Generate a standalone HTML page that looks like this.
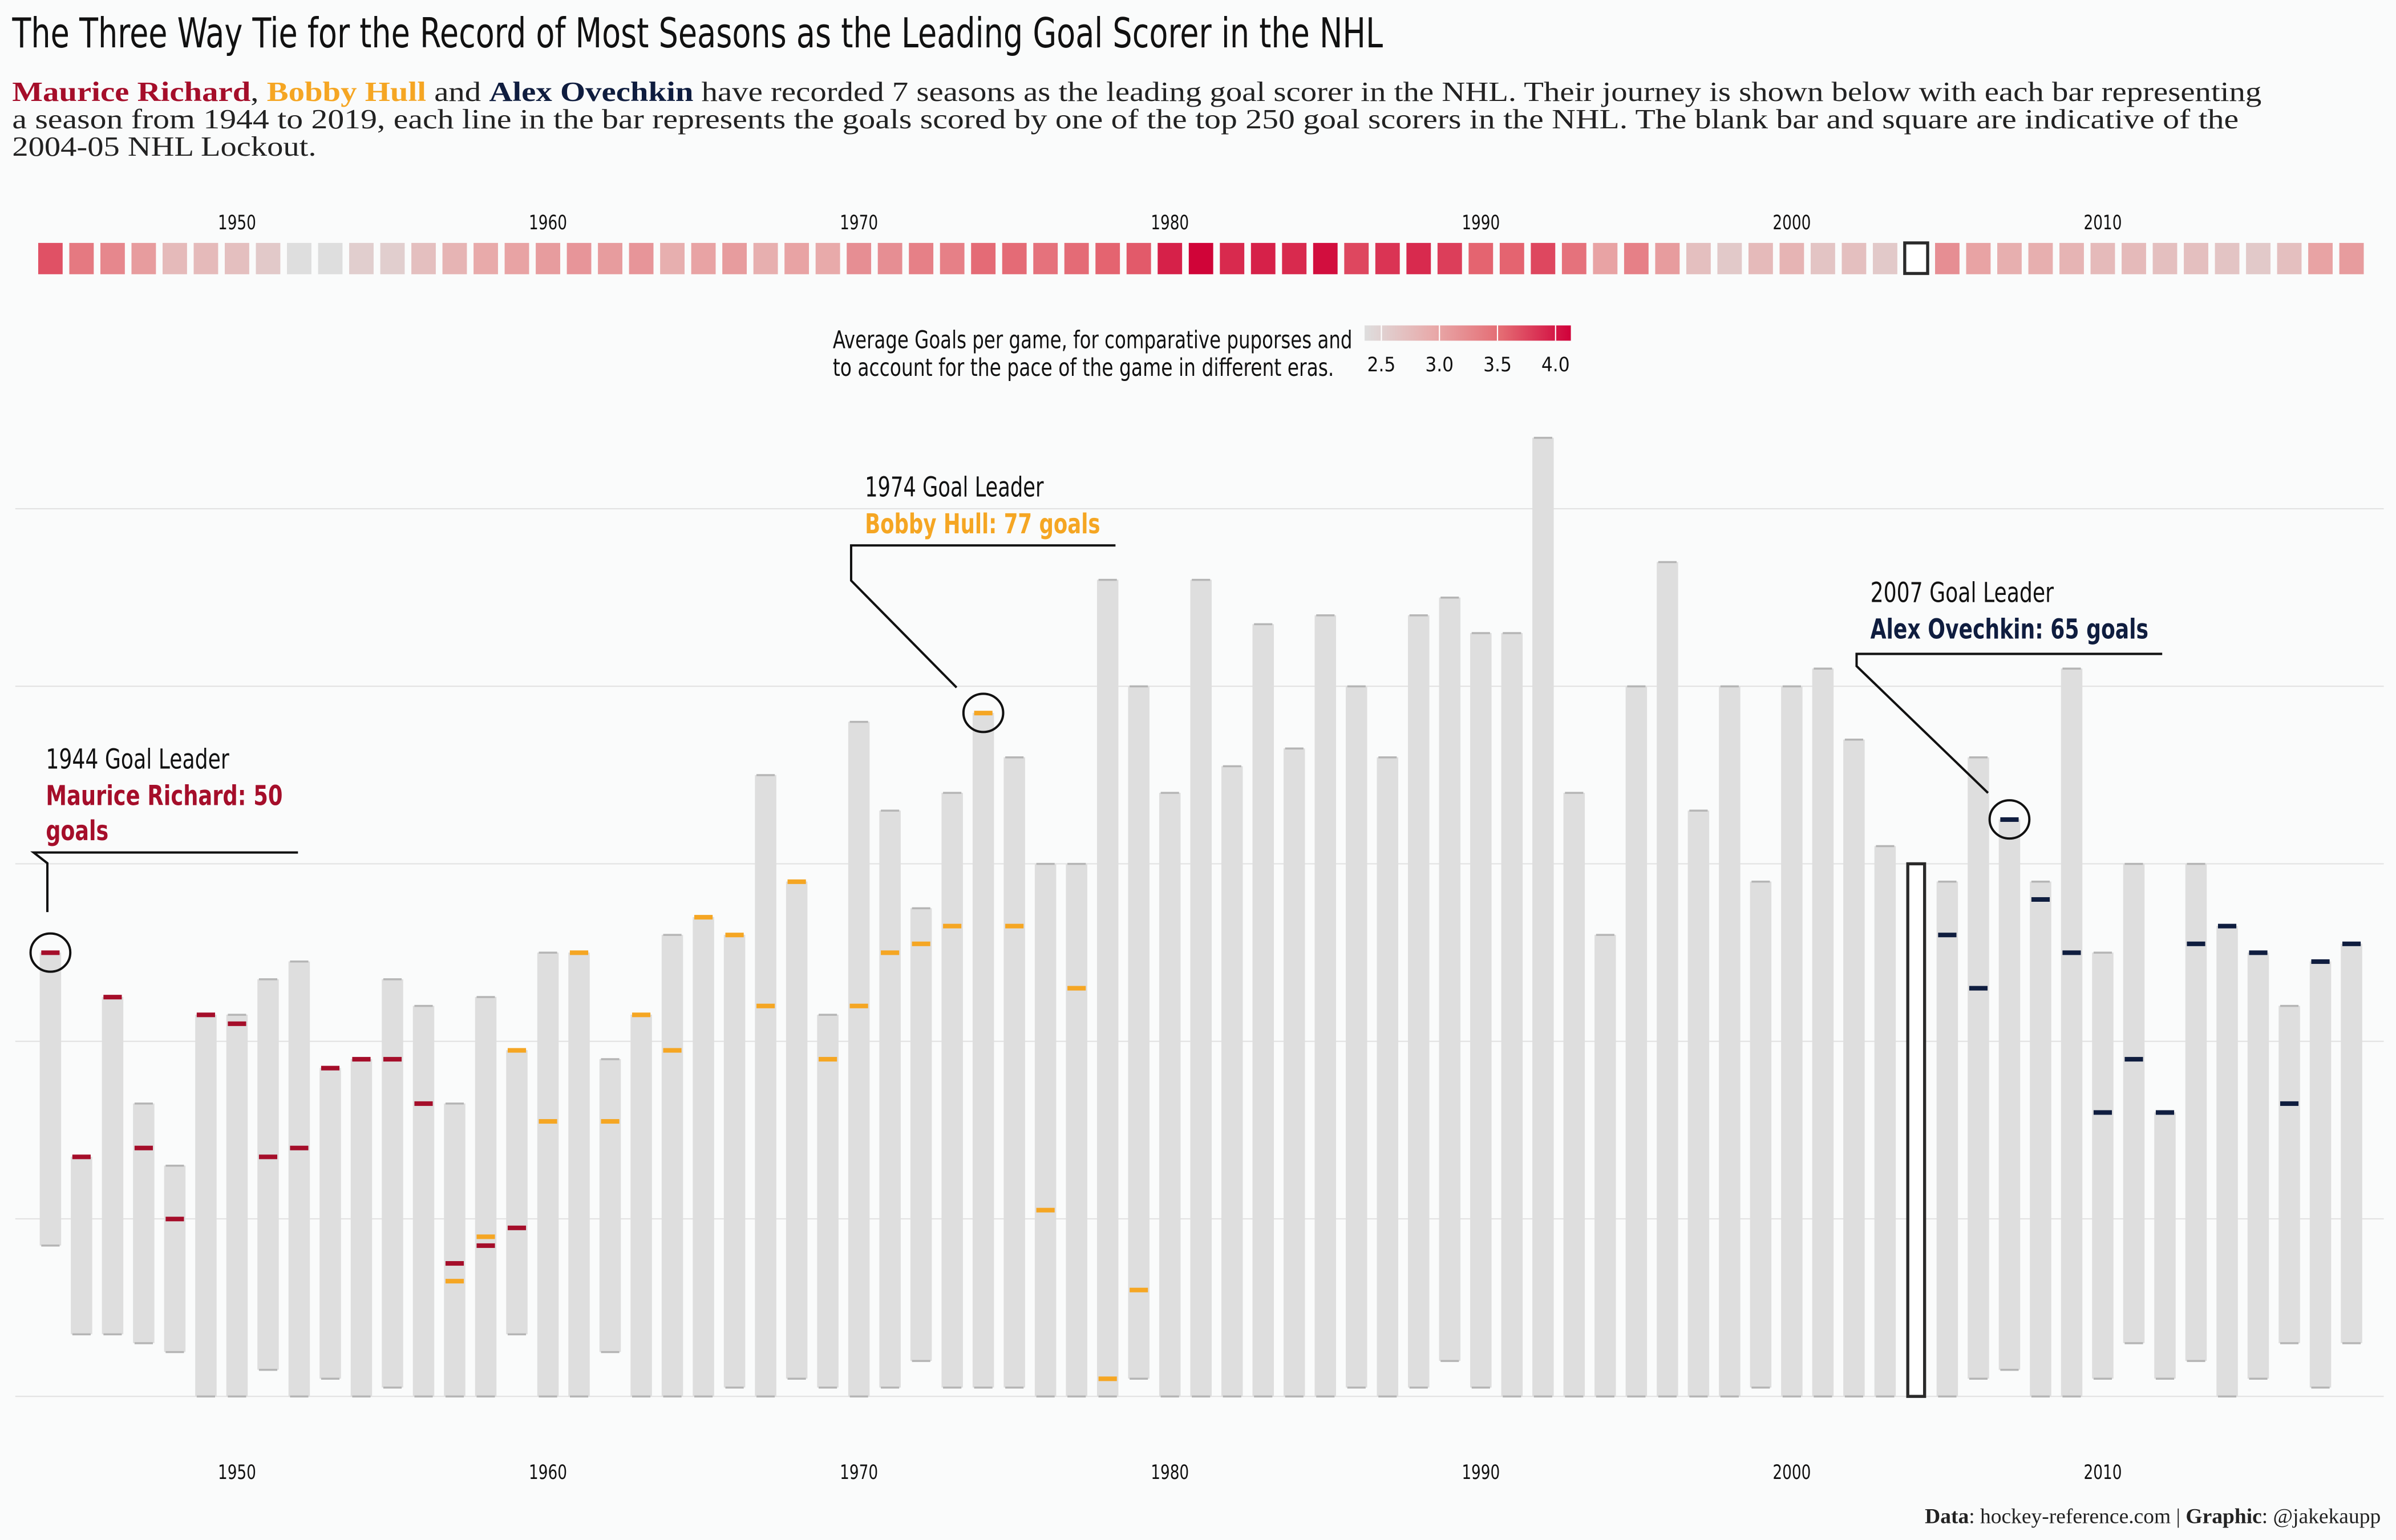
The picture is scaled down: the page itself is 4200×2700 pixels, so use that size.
<!DOCTYPE html>
<html><head><meta charset="utf-8"><title>NHL Goal Leaders</title>
<style>
html,body{margin:0;padding:0;background:#fafbfb;}
svg{display:block;}
.cond{font-family:"Liberation Sans Narrow","DejaVu Sans Condensed","Liberation Sans",sans-serif;}
.serif{font-family:"Liberation Serif",serif;}
</style></head>
<body>
<svg id="chart" width="4200" height="2700" viewBox="0 0 1568 1008" preserveAspectRatio="none" xmlns="http://www.w3.org/2000/svg">
<rect x="0" y="0" width="1568" height="1008" fill="#fafbfb"/>
<text class="cond" x="8" y="31" font-size="27" fill="#111" textLength="897" lengthAdjust="spacingAndGlyphs">The Three Way Tie for the Record of Most Seasons as the Leading Goal Scorer in the NHL</text>
<text class="serif" x="8" y="66" font-size="18" fill="#222" textLength="1472" lengthAdjust="spacingAndGlyphs"><tspan fill="#a50e2a" font-weight="bold">Maurice Richard</tspan>, <tspan fill="#f5a623" font-weight="bold">Bobby Hull</tspan> and <tspan fill="#0f1d3f" font-weight="bold">Alex Ovechkin</tspan> have recorded 7 seasons as the leading goal scorer in the NHL. Their journey is shown below with each bar representing</text>
<text class="serif" x="8" y="84" font-size="18" fill="#222" textLength="1457" lengthAdjust="spacingAndGlyphs">a season from 1944 to 2019, each line in the bar represents the goals scored by one of the top 250 goal scorers in the NHL. The blank bar and square are indicative of the</text>
<text class="serif" x="8" y="102" font-size="18" fill="#222" textLength="199" lengthAdjust="spacingAndGlyphs">2004-05 NHL Lockout.</text>

<g id="legend">
<text class="cond" x="545" y="228" font-size="16" fill="#111" textLength="340" lengthAdjust="spacingAndGlyphs">Average Goals per game, for comparative puporses and</text>
<text class="cond" x="545" y="246" font-size="16" fill="#111" textLength="328" lengthAdjust="spacingAndGlyphs">to account for the pace of the game in different eras.</text>
<defs><linearGradient id="lg" x1="0" x2="1" y1="0" y2="0">
<stop offset="0" stop-color="#dedede"/><stop offset="0.333" stop-color="#e8aaaa"/><stop offset="0.667" stop-color="#e46a72"/><stop offset="1" stop-color="#d0003a"/></linearGradient></defs>
<rect x="893" y="213" width="135" height="10" fill="url(#lg)"/>
</g>
<g id="grid"></g>
<g id="squares"></g>
<g id="bars"></g>
<g id="years"></g>

<g>
<text class="cond" x="30" y="503" font-size="18" fill="#111" textLength="120" lengthAdjust="spacingAndGlyphs">1944 Goal Leader</text>
<text class="cond" x="30" y="527" font-size="18" font-weight="bold" fill="#a50e2a" textLength="155" lengthAdjust="spacingAndGlyphs">Maurice Richard: 50</text>
<text class="cond" x="30" y="550" font-size="18" font-weight="bold" fill="#a50e2a" textLength="41" lengthAdjust="spacingAndGlyphs">goals</text>
<polyline points="195,558 22,558 31,565 31,597" fill="none" stroke="#111" stroke-width="1.5"/>
</g>
<g>
<text class="cond" x="566" y="325" font-size="18" fill="#111" textLength="117" lengthAdjust="spacingAndGlyphs">1974 Goal Leader</text>
<text class="cond" x="566" y="349" font-size="18" font-weight="bold" fill="#f5a623" textLength="154" lengthAdjust="spacingAndGlyphs">Bobby Hull: 77 goals</text>
<polyline points="730,357 557,357 557,380 626,450" fill="none" stroke="#111" stroke-width="1.5"/>
</g>
<g>
<text class="cond" x="1224" y="394" font-size="18" fill="#111" textLength="120" lengthAdjust="spacingAndGlyphs">2007 Goal Leader</text>
<text class="cond" x="1224" y="418" font-size="18" font-weight="bold" fill="#0f1d3f" textLength="182" lengthAdjust="spacingAndGlyphs">Alex Ovechkin: 65 goals</text>
<polyline points="1415,428 1215,428 1215,436 1301,519" fill="none" stroke="#111" stroke-width="1.5"/>
</g>
<g id="circles"></g>

<text class="serif" x="1558" y="997" font-size="14" fill="#222" text-anchor="end"><tspan font-weight="bold">Data</tspan>: hockey-reference.com | <tspan font-weight="bold">Graphic</tspan>: @jakekaupp</text>
</svg>
<script>
const seasons = [];
for (let y = 1944; y <= 2018; y++) seasons.push(y);
const maxGoals = [50,27,45,33,26,43,43,47,49,37,38,47,44,33,45,39,50,50,38,43,52,54,52,70,58,43,76,66,55,68,77,72,60,60,92,80,68,92,71,87,73,88,80,72,88,90,86,86,108,68,52,80,94,66,80,58,80,82,74,62,60,58,72,65,58,82,50,60,32,60,53,50,44,49,51];
const minGoals = [17,7,7,6,5,0,0,3,0,2,0,1,0,0,0,7,0,0,5,0,0,0,1,0,2,1,0,1,4,1,1,1,0,0,0,2,0,0,0,0,0,0,1,0,1,4,1,0,0,0,0,0,0,0,0,1,0,0,0,0,0,0,2,3,0,0,2,6,2,4,0,2,6,1,6];
const gpg = [3.6,3.35,3.25,3.1,2.85,2.85,2.8,2.7,2.5,2.5,2.65,2.65,2.8,2.9,3.0,3.05,3.1,3.15,3.1,3.15,2.95,3.05,3.1,2.95,3.05,3.0,3.2,3.2,3.3,3.3,3.45,3.45,3.4,3.45,3.5,3.55,3.85,4.0,3.8,3.85,3.8,3.95,3.65,3.75,3.8,3.7,3.5,3.5,3.65,3.4,3.05,3.3,3.1,2.8,2.7,2.85,2.9,2.75,2.8,2.7,null,3.2,3.05,2.95,2.95,2.9,2.85,2.85,2.8,2.8,2.75,2.7,2.8,3.05,3.1];
const lockoutSeason = 2004;
const richardSeasons = [1944,1945,1946,1947,1948,1949,1950,1951,1952,1953,1954,1955,1956,1957,1958,1959];
const richardGoals = [50,27,45,28,20,43,42,27,28,37,38,38,33,15,17,19];
const hullSeasons = [1957,1958,1959,1960,1961,1962,1963,1964,1965,1966,1967,1968,1969,1970,1971,1972,1973,1974,1975,1976,1977,1978,1979];
const hullGoals = [13,18,39,31,50,31,43,39,54,52,44,58,38,44,50,51,53,77,53,21,46,2,12];
const ovechkinSeasons = [2005,2006,2007,2008,2009,2010,2011,2012,2013,2014,2015,2016,2017,2018];
const ovechkinGoals = [52,46,65,56,50,32,38,32,51,53,50,33,49,51];
const gridValues = [0,20,40,60,80,100];
const yearLabels = [1950,1960,1970,1980,1990,2000,2010];
const legendTicks = [2.5,3.0,3.5,4.0];
const highlightedLeaders = [[1944,50],[1974,77],[2007,65]];

const NS = "http://www.w3.org/2000/svg";
const xC = s => 33 + (s - 1944) * 20.35;
const yG = g => 914 - g * 5.81;
const xL = v => 904 + (v - 2.5) / 1.5 * 114;
function mk(tag, attrs, parent) {
  const e = document.createElementNS(NS, tag);
  for (const k in attrs) e.setAttribute(k, attrs[k]);
  parent.appendChild(e);
  return e;
}
function lerp(a,b,t){return a.map((v,i)=>Math.round(v+(b[i]-v)*t));}
function gpgColor(v) {
  const stops = [[2.5,[222,222,222]],[3.0,[232,170,170]],[3.5,[228,100,112]],[4.0,[208,4,56]]];
  v = Math.max(2.5, Math.min(4.0, v));
  for (let i=0;i<stops.length-1;i++){
    if (v <= stops[i+1][0]) {
      const t = (v - stops[i][0])/(stops[i+1][0]-stops[i][0]);
      const c = lerp(stops[i][1], stops[i+1][1], t);
      return `rgb(${c[0]},${c[1]},${c[2]})`;
    }
  }
  return "rgb(208,4,56)";
}
const grid = document.getElementById('grid');
gridValues.forEach(v => {
  const l = mk('line', {x1:10, x2:1560, y1:yG(v), y2:yG(v), stroke:'#e2e2e2', 'stroke-width':0.8}, grid);
  
  
});
const lg = document.getElementById('legend');
legendTicks.forEach(v => {
  const t = mk('text', {x:xL(v), y:243, 'font-size':13, fill:'#111', 'text-anchor':'middle', class:'cond'}, lg);
  t.textContent = v.toFixed(1);
  
  
  const tk = mk('line', {x1:xL(v), x2:xL(v), y1:213, y2:223, stroke:'#fff', 'stroke-width':0.8}, lg);
  
  
});
const sq = document.getElementById('squares');
seasons.forEach((s,i) => {
  let r;
  if (s === lockoutSeason) {
    r = mk('rect', {x:xC(s)-7.5, y:159, width:15, height:20, fill:'#fff', stroke:'#2a2a2a', 'stroke-width':2}, sq);
  } else {
    r = mk('rect', {x:xC(s)-8, y:159, width:16, height:20.5, fill:gpgColor(gpg[i])}, sq);
  }
  
  
});
const bars = document.getElementById('bars');
seasons.forEach((s,i) => {
  let r;
  if (s === lockoutSeason) {
    r = mk('rect', {x:xC(s)-5.5, y:yG(maxGoals[i]), width:11, height:yG(minGoals[i])-yG(maxGoals[i]), fill:'#fff', stroke:'#2a2a2a', 'stroke-width':2}, bars);
    
    
    return;
  }
  r = mk('rect', {x:xC(s)-7, y:yG(maxGoals[i]), width:14, height:Math.max(1,yG(minGoals[i])-yG(maxGoals[i])), fill:'#dedede'}, bars);
  
  
  [maxGoals[i], minGoals[i]].forEach(g => {
    const t = mk('rect', {x:xC(s)-6, y:yG(g)-0.6, width:12, height:1.3, fill:'#b5b5b5'}, bars);
    
    
  });
});
function marks(ss, gs, color, name) {
  ss.forEach((s,k) => {
    const t = mk('rect', {x:xC(s)-6, y:yG(gs[k])-1.4, width:12, height:3, fill:color}, bars);
    
    
  });
}
marks(richardSeasons, richardGoals, '#a50e2a', 'richard');
marks(hullSeasons, hullGoals, '#f5a623', 'hull');
marks(ovechkinSeasons, ovechkinGoals, '#0f1d3f', 'ovechkin');
const circ = document.getElementById('circles');
highlightedLeaders.forEach(([s,g]) => {
  const c = mk('ellipse', {cx:xC(s), cy:yG(g), rx:13, ry:12.5, fill:'none', stroke:'#111', 'stroke-width':1.5}, circ);
  
  
});
const yrs = document.getElementById('years');
yearLabels.forEach(y => {
  [150, 968].forEach((yy, j) => {
    const t = mk('text', {x:xC(y), y:yy, 'font-size':13, fill:'#111', 'text-anchor':'middle', class:'cond', textLength:25, lengthAdjust:'spacingAndGlyphs'}, yrs);
    t.textContent = y;
    
    
  });
});
</script>
</body></html>
